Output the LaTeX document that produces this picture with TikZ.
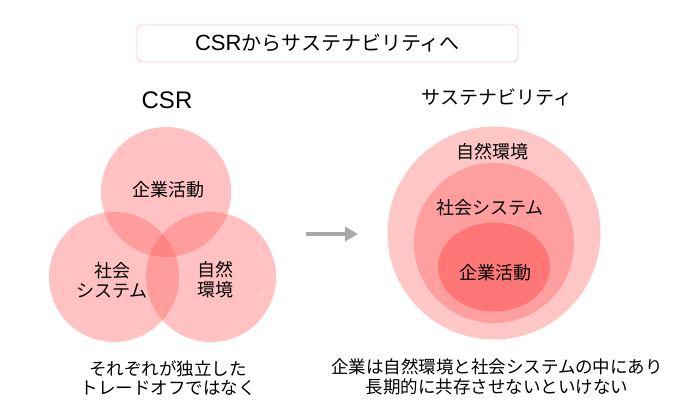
\documentclass[tikz,border=0pt]{standalone}
\usepackage{fontspec}
\setmainfont{Noto Sans CJK JP}
\newfontfamily\latinfont{Liberation Sans}
\usetikzlibrary{arrows.meta,shapes.geometric}
\definecolor{boxline}{RGB}{248,200,204}
\definecolor{vennred}{RGB}{255,100,100}
\definecolor{outercol}{RGB}{255,198,198}
\definecolor{midcol}{RGB}{255,158,158}
\definecolor{innercol}{RGB}{255,118,118}
\definecolor{arrowcol}{gray}{0.66}
\tikzset{
  titlebox/.style={draw=boxline,fill=white,rounded corners=5pt,line width=0.8pt,minimum width=381pt,minimum height=37pt,font=\fontsize{20}{24}\selectfont},
  head/.style={font=\fontsize{19}{22}\selectfont},
  venn/.style={circle,fill=vennred,fill opacity=0.4,minimum size=130pt,inner sep=0pt},
  lab/.style={font=\fontsize{18}{20}\selectfont,align=center},
  note/.style={font=\fontsize{17.5}{19.5}\selectfont,align=center},
}
\begin{document}
\begin{tikzpicture}[x=1pt,y=-1pt]
  \useasboundingbox (0,0) rectangle (685,420);
  \node[titlebox] (title) at (327.5,43.5) {{\latinfont\fontsize{22}{24}\selectfont CSR}からサステナビリティへ};
  % CSR
  \node[head,font=\latinfont\fontsize{24}{26}\selectfont] (csr) at (167,100) {CSR};
  \node[venn] (biz) at (166,192) {};
  \node[venn] (soc) at (114,277) {};
  \node[venn] (env) at (211,277) {};
  \node[lab] (bizlab) at (168,190) {企業活動};
  \node[lab] (soclab) at (112,280) {社会\\システム};
  \node[lab] (envlab) at (215,280) {自然\\環境};
  \node[note] (csrnote) at (168,378) {それぞれが独立した\\トレードオフではなく};
  % arrow
  \coordinate (arrS) at (306,234);
  \coordinate (arrE) at (358,234);
  \draw[arrowcol,line width=4pt,-{Triangle[length=13pt,width=14pt]}] (arrS) -- (arrE);
  % sustainability
  \node[head] (sus) at (497,97) {サステナビリティ};
  \node[circle,fill=outercol,minimum size=213pt,inner sep=0pt] (outer) at (494,233) {};
  \node[circle,fill=midcol,minimum size=160pt,inner sep=0pt] (mid) at (494,243) {};
  \node[ellipse,fill=innercol,minimum width=112pt,minimum height=89pt,inner sep=0pt] (inner) at (494,267) {};
  \node[lab] (envlab2) at (492,152) {自然環境};
  \node[lab] (soclab2) at (490,208) {社会システム};
  \node[lab] (bizlab2) at (495,273) {企業活動};
  \node[note] (susnote) at (497,377) {企業は自然環境と社会システムの中にあり\\長期的に共存させないといけない};
\end{tikzpicture}
\end{document}
